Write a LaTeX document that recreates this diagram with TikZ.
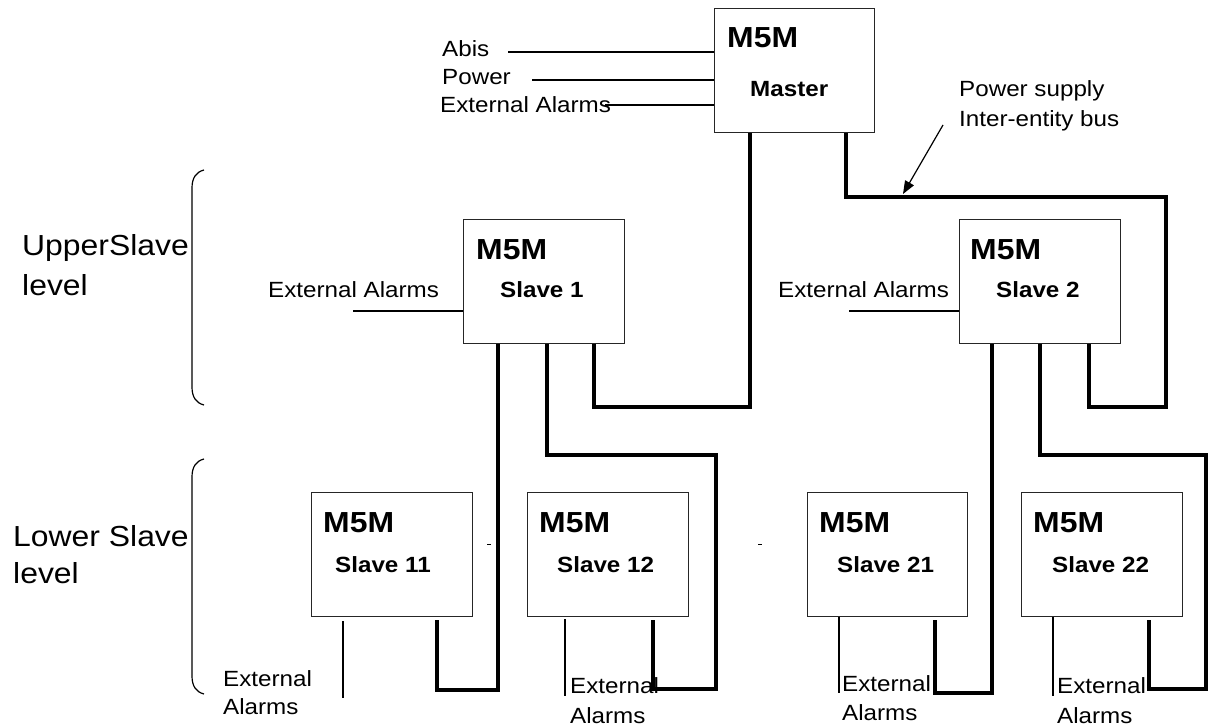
\documentclass[tikz,border=0pt]{standalone}
\usepackage{fontspec}
\setmainfont{Liberation Sans}
\usetikzlibrary{calc,arrows.meta}
\newcommand\hs[1]{\scalebox{1.1}[1]{#1}}
\begin{document}
\begin{tikzpicture}[x=1pt,y=-1pt,
  box/.style={draw=black!85, line width=1.3pt, minimum width=161pt, minimum height=124pt, anchor=north west, inner sep=0pt},
  lbl/.style={anchor=base west, inner sep=0pt, font=\fontsize{22}{26}\selectfont},
  big/.style={anchor=base west, inner sep=0pt, font=\bfseries\fontsize{29}{34}\selectfont},
  nm/.style={anchor=base west, inner sep=0pt, font=\bfseries\fontsize{22}{26}\selectfont},
  lvl/.style={anchor=base west, inner sep=0pt, font=\fontsize{29}{34}\selectfont},
  bus/.style={line width=4pt},
  thin/.style={line width=1.2pt}]
\useasboundingbox (0,0) rectangle (1208,727);
% boxes
\node[box, minimum width=160pt] (master) at (714,8) {};
\node[box] (s1) at (463,219) {};
\node[box] (s2) at (959,219) {};
\node[box] (s11) at (311,492) {};
\node[box] (s12) at (527,492) {};
\node[box, minimum width=160pt] (s21) at (807,492) {};
\node[box] (s22) at (1021,492) {};
% box texts
\node[big] (tm) at (727,48) {\hs{M5M}};
\node[nm] (tmn) at (750,97) {\hs{Master}};
\node[big] (t1) at (476,260) {\hs{M5M}};
\node[nm] (t1n) at (500,298) {\hs{Slave 1}};
\node[big] (t2) at (970,260) {\hs{M5M}};
\node[nm] (t2n) at (996,298) {\hs{Slave 2}};
\node[big] (t11) at (323,532) {\hs{M5M}};
\node[nm] (t11n) at (335,572) {\hs{Slave 11}};
\node[big] (t12) at (539,532) {\hs{M5M}};
\node[nm] (t12n) at (557,572) {\hs{Slave 12}};
\node[big] (t21) at (819,532) {\hs{M5M}};
\node[nm] (t21n) at (837,572) {\hs{Slave 21}};
\node[big] (t22) at (1033,532) {\hs{M5M}};
\node[nm] (t22n) at (1052,572) {\hs{Slave 22}};
% master inputs
\node[lbl] (abis) at (442,57) {\hs{Abis}};
\node[lbl] (power) at (442,85) {\hs{Power}};
\node[lbl] (extm) at (440,113) {\hs{External Alarms}};
\coordinate (abisL) at (508,52);
\coordinate (powL) at (532,80);
\coordinate (extmL) at (605,105);
\draw[thin] (abisL) -- (abisL -| master.west);
\draw[thin] (powL) -- (powL -| master.west);
\draw[thin] (extmL) -- (extmL -| master.west);
% power supply label and arrow
\node[lbl] (ps1) at (959,97) {\hs{Power supply}};
\node[lbl] (ps2) at (959,127) {\hs{Inter-entity bus}};
\coordinate (arrS) at (943,125);
\coordinate (arrE) at (903,194);
\draw[thin, -{Triangle[length=13pt,width=10pt]}] (arrS) -- (arrE);
% upper slave external alarms
\node[lbl] (ext1) at (268,298) {\hs{External Alarms}};
\node[lbl] (ext2) at (778,298) {\hs{External Alarms}};
\coordinate (ext1L) at (353,311);
\coordinate (ext2L) at (849,311);
\draw[thin] (ext1L) -- (ext1L -| s1.west);
\draw[thin] (ext2L) -- (ext2L -| s2.west);
% level labels
\node[lvl] (up1) at (22,256) {\hs{UpperSlave}};
\node[lvl] (up2) at (22,296) {\hs{level}};
\node[lvl] (lo1) at (13,546) {\hs{Lower Slave}};
\node[lvl] (lo2) at (13,583) {\hs{level}};
% brackets
\draw[thin] (204,170) .. controls (196,172) and (192,178) .. (192,188) -- (192,387) .. controls (192,397) and (196,403) .. (204,405);
\draw[thin] (204,459) .. controls (196,461) and (192,467) .. (192,477) -- (192,676) .. controls (192,686) and (196,692) .. (204,694);
% lower external alarms
\node[lbl] (e11a) at (223,686) {\hs{External}};
\node[lbl] (e11b) at (223,714) {\hs{Alarms}};
\node[lbl] (e12a) at (570,693) {\hs{External}};
\node[lbl] (e12b) at (570,723) {\hs{Alarms}};
\node[lbl] (e21a) at (842,691) {\hs{External}};
\node[lbl] (e21b) at (842,720) {\hs{Alarms}};
\node[lbl] (e22a) at (1057,693) {\hs{External}};
\node[lbl] (e22b) at (1057,723) {\hs{Alarms}};
\draw[thin] ($(s11.south west)+(32,4)$) -- ++(0,77);
\draw[thin] ($(s12.south west)+(38,2)$) -- ++(0,77);
\draw[thin] ($(s21.south west)+(32,0)$) -- ++(0,76);
\draw[thin] ($(s22.south west)+(32,0)$) -- ++(0,79);
% stray ticks
\draw[line width=1pt] (487,544) -- (491,544);
\draw[line width=1pt] (758,544) -- (762,544);
% buses
\draw[bus] ($(master.south west)+(36,0)$) -- ++(0,274) -| ($(s1.south west)+(131,0)$);
\draw[bus] ($(master.south west)+(132,0)$) -- ++(0,64) -- ++(320,0) -- ++(0,210) -| ($(s2.south west)+(130,0)$);
\draw[bus] ($(s1.south west)+(35,0)$) -- ++(0,346) -| ($(s11.south west)+(126,3)$);
\draw[bus] ($(s1.south west)+(84,0)$) -- ++(0,111) -- ++(169,0) -- ++(0,234) -| ($(s12.south west)+(126,3)$);
\draw[bus] ($(s2.south west)+(33,0)$) -- ++(0,349) -| ($(s21.south west)+(128,3)$);
\draw[bus] ($(s2.south west)+(81,0)$) -- ++(0,111) -- ++(166,0) -- ++(0,234) -| ($(s22.south west)+(128,3)$);
\end{tikzpicture}
\end{document}
